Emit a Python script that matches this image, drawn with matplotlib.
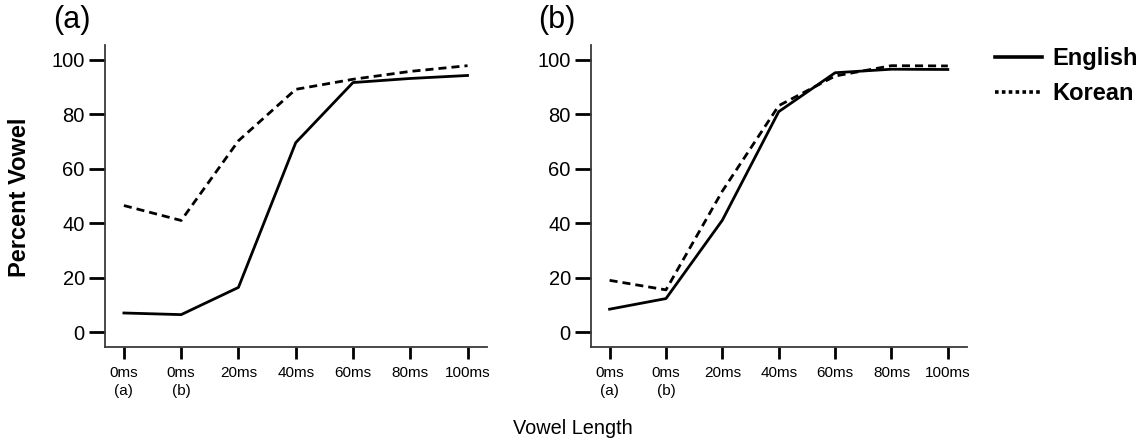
import matplotlib
matplotlib.use("Agg")
import matplotlib.pyplot as plt
from matplotlib.lines import Line2D

plt.rcParams['font.family'] = ['Liberation Sans', 'DejaVu Sans']

categories = ["0ms\n(a)", "0ms\n(b)", "20ms", "40ms", "60ms", "80ms", "100ms"]
yticks = [0, 20, 40, 60, 80, 100]

english_a = [7.0, 6.4, 16.4, 69.6, 91.7, 93.2, 94.3]
korean_a = [46.5, 41.0, 70.3, 89.2, 92.9, 95.8, 97.9]
english_b = [8.4, 12.3, 41.1, 81.0, 95.3, 96.6, 96.5]
korean_b = [19.0, 15.5, 51.8, 83.2, 94.1, 97.9, 97.8]

panels = [("(a)", english_a, korean_a), ("(b)", english_b, korean_b)]

fig = plt.figure(figsize=(11.46, 4.47), dpi=100)
W, H = 1146.0, 447.0
boxes = [[105 / W, 100 / H, 382 / W, 302 / H],
         [591 / W, 100 / H, 376 / W, 302 / H]]
title_x = [53 / W, 538 / W]
spine_col = "#3a3a3a"
for (title, eng, kor), box, tx in zip(panels, boxes, title_x):
    ax = fig.add_axes(box)
    x = list(range(len(categories)))
    ax.plot(x, eng, color="black", lw=2.0)
    ax.plot(x, kor, color="black", lw=2.0, linestyle=(0, (2.9, 1.8)))
    ax.set_xlim(-0.33, 6.34)
    ax.set_ylim(-5.5, 105.5)
    ax.set_xticks(x)
    ax.set_xticklabels(categories, fontsize=11, linespacing=1.4)
    ax.set_yticks(yticks)
    ax.set_yticklabels([str(v) for v in yticks], fontsize=14.5)
    for s in ["top", "right"]:
        ax.spines[s].set_visible(False)
    for s in ["left", "bottom"]:
        ax.spines[s].set_color(spine_col)
        ax.spines[s].set_linewidth(1.3)
    ax.tick_params(axis="y", length=11.5, width=2.0, color="black", pad=3)
    ax.tick_params(axis="x", length=8.6, width=2.0, color="black", pad=5)
    fig.text(tx, 1 - 20 / H, title, fontsize=22, ha="left", va="center")

fig.text(20 / W, 1 - 197 / H, "Percent Vowel", rotation=90, fontsize=17,
         fontweight="bold", ha="center", va="center")
fig.text(573 / W, 1 - 429 / H, "Vowel Length", fontsize=14.3,
         ha="center", va="center")

handles = [Line2D([], [], color="black", lw=2.6, linestyle="-"),
           Line2D([], [], color="black", lw=2.6, linestyle=(0, (1, 0.9)))]
fig.legend(handles, ["English", "Korean"], loc="upper left",
           bbox_to_anchor=(995 / W, 1 - 47 / H), frameon=False,
           prop={"weight": "bold", "size": 17}, handlelength=2.0,
           handletextpad=0.42, labelspacing=0.5, borderpad=0,
           borderaxespad=0)

fig.savefig("out.png", dpi=100)
